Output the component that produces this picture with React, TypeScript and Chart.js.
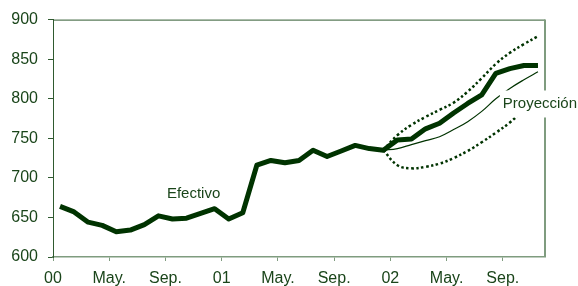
import React, { useEffect, useRef } from "react";
import { Chart, registerables } from "chart.js";

Chart.register(...registerables);

// Monthly data, Jan 2000 .. Nov 2002
const tickLabels = ["00", "May.", "Sep.", "01", "May.", "Sep.", "02", "May.", "Sep."];
const monthsPerTick = 4;
const totalMonths = 35;

const efectivo = [
  664, 657, 644, 640, 632, 634, 641, 652, 648, 649, 655, 661,
  648, 656, 716, 722, 719, 722, 735, 727, 734, 741, 737, 735,
  748, 749, 762, 769, 782, 794, 805, 832, 838, 842, 842,
];

// projections start at Dec 2001 (month index 23)
const projStart = 23;
const proyeccion = [735, 737, 742, 747, 752, 761, 771, 784, 800, 813, 824, 834];
const bandaSuperior = [735, 754, 767, 777, 786, 795, 809, 826, 844, 858, 869, 879];
const bandaInferior = [735, 716, 712, 714, 718, 725, 734, 745, 757, 770, 786, 804];

const DARK = "#003300";
const TEXT = "#1a451a";
const AXIS = "#2f5a2f";
const BORDER = "#7f9c7f";
const FONT = '"Liberation Sans", Arial, sans-serif';

const toPts = (arr: number[], start: number) => arr.map((v, i) => ({ x: start + i + 0.5, y: v }));

const labelsPlugin = {
  id: "labelsPlugin",
  beforeDatasetsDraw(chart: any) {
    const { ctx, chartArea } = chart;
    ctx.save();
    ctx.strokeStyle = AXIS;
    ctx.lineWidth = 1;
    ctx.beginPath();
    ctx.moveTo(chartArea.left, chartArea.top + 0.5);
    ctx.lineTo(chartArea.right, chartArea.top + 0.5);
    ctx.stroke();
    ctx.strokeStyle = BORDER;
    ctx.lineWidth = 2;
    ctx.beginPath();
    ctx.moveTo(chartArea.right, chartArea.top);
    ctx.lineTo(chartArea.right, chartArea.bottom);
    ctx.stroke();
    ctx.restore();
  },
  afterDatasetsDraw(chart: any) {
    const { ctx, scales } = chart;
    const x = scales.x;
    const y = scales.y;
    ctx.save();
    ctx.font = "15px " + FONT;
    ctx.fillStyle = TEXT;
    ctx.textBaseline = "middle";
    // Efectivo
    ctx.textAlign = "center";
    ctx.fillText("Efectivo", x.getPixelForValue(10), y.getPixelForValue(680));
    // Proyección with white box
    const tx = x.getPixelForValue(32);
    const ty = y.getPixelForValue(794);
    const w = ctx.measureText("Proyección").width;
    ctx.fillStyle = "#ffffff";
    ctx.fillRect(tx - 3, ty - 13, w + 6, 27);
    ctx.fillStyle = TEXT;
    ctx.textAlign = "left";
    ctx.fillText("Proyección", tx, ty);
    ctx.restore();
  },
};

export default function App() {
  const ref = useRef<HTMLCanvasElement | null>(null);
  useEffect(() => {
    if (!ref.current) return;
    const chart = new Chart(ref.current, {
      type: "line",
      data: {
        datasets: [
          {
            data: toPts(bandaSuperior, projStart),
            borderColor: DARK,
            borderWidth: 2.5,
            borderDash: [2.5, 2.5],
            tension: 0.4,
            pointRadius: 0,
            fill: false,
          },
          {
            data: toPts(bandaInferior, projStart),
            borderColor: DARK,
            borderWidth: 2.5,
            borderDash: [2.5, 2.5],
            tension: 0.4,
            pointRadius: 0,
            fill: false,
          },
          {
            data: toPts(proyeccion, projStart),
            borderColor: DARK,
            borderWidth: 1.2,
            tension: 0.4,
            pointRadius: 0,
            fill: false,
          },
          {
            data: toPts(efectivo, 0),
            borderColor: DARK,
            borderWidth: 5,
            borderJoinStyle: "round",
            tension: 0,
            pointRadius: 0,
            fill: false,
          },
        ],
      },
      options: {
        animation: false,
        responsive: false,
        devicePixelRatio: 1,
        layout: { padding: { top: 13, right: 33, left: 0, bottom: 0 } },
        plugins: { legend: { display: false }, tooltip: { enabled: false } },
        scales: {
          x: {
            type: "linear",
            min: 0,
            max: totalMonths,
            afterBuildTicks: (scale: any) => {
              scale.ticks = tickLabels.map((_, i) => ({ value: i * monthsPerTick }));
            },
            afterFit: (scale: any) => {
              scale.height = 29;
            },
            ticks: {
              autoSkip: false,
              maxRotation: 0,
              padding: 8,
              color: TEXT,
              font: { family: FONT, size: 16 },
              callback: (value: any) => tickLabels[Math.round(Number(value) / monthsPerTick)] ?? "",
            },
            grid: {
              drawOnChartArea: false,
              drawTicks: true,
              tickLength: 4,
              color: BORDER,
              lineWidth: 1,
            },
            border: { display: true, color: BORDER, width: 1.5 },
          },
          y: {
            min: 600,
            max: 900,
            afterFit: (scale: any) => {
              scale.width = 53;
            },
            ticks: {
              stepSize: 50,
              padding: 10,
              color: TEXT,
              font: { family: FONT, size: 16 },
            },
            grid: {
              drawOnChartArea: false,
              drawTicks: true,
              tickLength: 5,
              color: AXIS,
              lineWidth: 1,
            },
            border: { display: true, color: AXIS, width: 1 },
          },
        },
      },
      plugins: [labelsPlugin],
    } as any);
    return () => chart.destroy();
  }, []);
  return (
    <div style={{ position: "fixed", left: 0, top: 0, width: 578, height: 286, background: "#fff" }}>
      <canvas ref={ref} width={578} height={286} style={{ width: 578, height: 286 }} />
    </div>
  );
}
